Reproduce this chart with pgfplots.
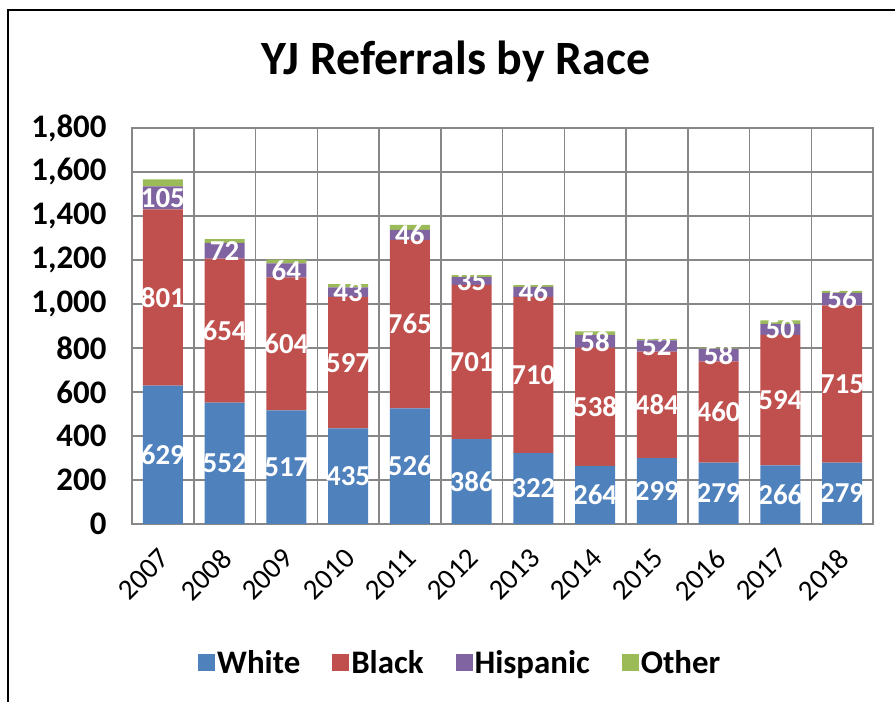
\documentclass[border=0pt]{standalone}
\usepackage{pgfplots}
\pgfplotsset{compat=1.18}
\usepackage{pgfplotstable}
\usepackage{fontspec}
\setmainfont{Carlito}
\definecolor{cW}{HTML}{4F81BD}
\definecolor{cB}{HTML}{C0504D}
\definecolor{cH}{HTML}{8064A2}
\definecolor{cO}{HTML}{9BBB59}
\definecolor{gridgray}{HTML}{878787}
\pgfplotstableread{
x W B H O
0 629 801 105 32
1 552 654 72 17
2 517 604 64 17
3 435 597 43 15
4 526 765 46 23
5 386 701 35 9
6 322 710 46 8
7 264 538 58 15
8 299 484 52 6
9 279 460 58 5
10 266 594 50 15
11 279 715 56 10
}\data
\begin{document}
\begin{tikzpicture}
\useasboundingbox (0,0) rectangle (895bp,702bp);
\draw[line width=2bp] (8bp,-20bp) -- (8bp,692bp) -- (920bp,692bp);
\node[font=\bfseries\fontsize{48}{52}\selectfont] at (456bp,641bp) {YJ Referrals by Race};
\begin{axis}[
  at={(132bp,178bp)}, anchor=south west,
  scale only axis, width=741bp, height=396bp,
  ybar stacked, bar width=40bp,
  xmin=-0.5, xmax=11.5, ymin=0, ymax=1800,
  xtick={0,...,11},
  xticklabels={2007,2008,2009,2010,2011,2012,2013,2014,2015,2016,2017,2018},
  minor xtick={-0.5,0.5,...,11.5},
  ytick={0,200,...,1800},
  xminorgrids, ymajorgrids, xmajorgrids=false,
  grid style={gridgray, line width=1.5bp},
  minor grid style={gridgray, line width=1.5bp},
  axis line style={gridgray, line width=1.5bp},
  major tick length=0pt, minor tick length=0pt,
  tick align=outside,
  /pgf/number format/assume math mode=true,
  /pgf/number format/1000 sep={,},
  yticklabel style={font=\bfseries\fontsize{33}{33}\selectfont, text=black, xshift=-22bp},
  xticklabel style={font=\fontsize{29}{29}\selectfont, text=black, xshift=-5bp, yshift=-18bp, rotate=45, anchor=north east},
  point meta=explicit,
  every node near coord/.append style={font=\bfseries\fontsize{29}{29}\selectfont, text=white, anchor=center},
  legend columns=4,
  legend style={at={(0.443,-0.35)}, anchor=center, draw=none, fill=none,
    font=\bfseries\fontsize{33}{33}\selectfont,
    /tikz/every even column/.append style={column sep=30bp}},
  every axis plot post/.append style={legend image code/.code={\fill[##1] (0bp,-8.5bp) rectangle (17bp,8.5bp);}},
]
\addplot[fill=cW, draw=none, nodes near coords] table[x=x, y=W, meta=W] {\data};
\addplot[fill=cB, draw=none, nodes near coords] table[x=x, y=B, meta=B] {\data};
\addplot[fill=cH, draw=none, nodes near coords] table[x=x, y=H, meta=H] {\data};
\addplot[fill=cO, draw=none] table[x=x, y=O, meta=O] {\data};
\legend{White, Black, Hispanic, Other}
\end{axis}
\end{tikzpicture}
\end{document}
